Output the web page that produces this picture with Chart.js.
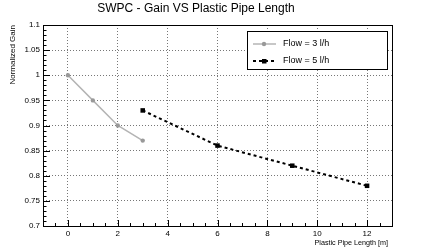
<!DOCTYPE html>
<html>
<head>
<meta charset="utf-8">
<script src="https://cdn.jsdelivr.net/npm/chart.js@4"></script>
<style>
  body { margin: 0; background: #fff; }
  canvas { display: block; }
</style>
</head>
<body>
<canvas id="gainChart" width="436" height="252"></canvas>
<script>
// data
const flow3Length = [0, 1, 2, 3];
const flow3Gain = [1.0, 0.95, 0.9, 0.87];
const flow5Length = [3, 6, 9, 12];
const flow5Gain = [0.93, 0.86, 0.82, 0.78];

const seriesLabels = ["Flow = 3 l/h", "Flow = 5 l/h"];
const xTickValues = [0, 2, 4, 6, 8, 10, 12];
const yTickValues = [0.7, 0.75, 0.8, 0.85, 0.9, 0.95, 1, 1.05, 1.1];

const FONT = "'Liberation Sans', Arial, sans-serif";

function toPoints(xs, ys) {
  return xs.map((x, i) => ({ x: x, y: ys[i] }));
}

// ROOT-like frame, inside ticks and legend box
const rootFrame = {
  id: "rootFrame",
  afterDraw(chart) {
    const { ctx, chartArea: a, scales } = chart;
    const xs = scales.x;
    const ys = scales.y;

    ctx.save();
    ctx.strokeStyle = "#000";
    ctx.lineWidth = 1;
    ctx.setLineDash([]);
    ctx.strokeRect(Math.round(a.left) + 0.5, Math.round(a.top) + 0.5,
      Math.round(a.right - a.left), Math.round(a.bottom - a.top));

    ctx.beginPath();
    // y ticks
    for (let k = 70; k <= 110; k++) {
      const py = Math.round(ys.getPixelForValue(k / 100)) + 0.5;
      const len = k % 5 === 0 ? 7 : 3.5;
      ctx.moveTo(a.left, py);
      ctx.lineTo(a.left + len, py);
    }
    // x ticks
    for (let k = -2; k <= 26; k++) {
      const px = Math.round(xs.getPixelForValue(k / 2)) + 0.5;
      const len = k % 4 === 0 ? 6 : 3;
      ctx.moveTo(px, a.bottom);
      ctx.lineTo(px, a.bottom - len);
    }
    ctx.stroke();

    // legend
    const bx = 247, by = 31, bw = 140, bh = 38;
    ctx.fillStyle = "#fff";
    ctx.fillRect(bx, by, bw, bh);
    ctx.strokeRect(bx + 0.5, by + 0.5, bw, bh);

    const rows = [44, 61];
    chart.data.datasets.forEach((ds, i) => {
      const y = rows[i];
      ctx.save();
      ctx.strokeStyle = ds.borderColor;
      ctx.lineWidth = ds.borderWidth;
      ctx.setLineDash(ds.borderDash || []);
      ctx.beginPath();
      ctx.moveTo(253, y);
      ctx.lineTo(276, y);
      ctx.stroke();
      ctx.restore();
      ctx.fillStyle = ds.pointBackgroundColor;
      if (ds.pointStyle === "rect") {
        ctx.fillRect(262, y - 2, 4.5, 4.5);
      } else {
        ctx.beginPath();
        ctx.arc(264, y, ds.pointRadius, 0, Math.PI * 2);
        ctx.fill();
      }
      ctx.fillStyle = "#000";
      ctx.font = "9px " + FONT;
      ctx.textBaseline = "middle";
      ctx.fillText(ds.label, 283, y);
    });
    ctx.restore();
  },
};

new Chart(document.getElementById("gainChart"), {
  type: "line",
  data: {
    datasets: [
      {
        label: seriesLabels[0],
        data: toPoints(flow3Length, flow3Gain),
        borderColor: "#b4b4b4",
        borderWidth: 1.5,
        pointStyle: "circle",
        pointRadius: 2.2,
        pointBackgroundColor: "#999",
        pointBorderWidth: 0,
      },
      {
        label: seriesLabels[1],
        data: toPoints(flow5Length, flow5Gain),
        borderColor: "#000",
        borderWidth: 2,
        borderDash: [3, 3],
        pointStyle: "rect",
        pointRadius: 3.2,
        pointBackgroundColor: "#000",
        pointBorderWidth: 0,
      },
    ],
  },
  options: {
    responsive: false,
    animation: false,
    devicePixelRatio: 1,
    layout: { padding: { left: 0, right: 44, top: 0, bottom: 0 } },
    plugins: {
      legend: { display: false },
      tooltip: { enabled: false },
      title: {
        display: true,
        text: "SWPC - Gain VS Plastic Pipe Length",
        color: "#000",
        font: { family: FONT, size: 12, weight: "normal" },
        padding: { top: 1, bottom: 9.6 },
      },
    },
    scales: {
      x: {
        type: "linear",
        min: -1,
        max: 13,
        afterBuildTicks: (s) => { s.ticks = xTickValues.map((v) => ({ value: v })); },
        afterFit: (s) => { s.height = 26; },
        ticks: {
          color: "#000",
          padding: 3,
          maxRotation: 0,
          font: { family: FONT, size: 8 },
          callback: (v) => String(v),
        },
        grid: {
          drawTicks: false,
          color: "#777",
          lineWidth: 1,
        },
        border: { display: false, dash: [1, 2] },
        title: {
          display: true,
          text: "Plastic Pipe Length [m]  ",
          align: "end",
          color: "#000",
          font: { family: FONT, size: 7.2 },
          padding: { top: 0, bottom: 4.2 },
        },
      },
      y: {
        min: 0.7,
        max: 1.1,
        afterBuildTicks: (s) => { s.ticks = yTickValues.map((v) => ({ value: v })); },
        afterFit: (s) => { s.width = 43; },
        ticks: {
          color: "#000",
          padding: 3,
          font: { family: FONT, size: 8 },
          callback: (v) => String(Math.round(v * 100) / 100),
        },
        grid: {
          drawTicks: false,
          lineWidth: 1,
          color: (c) => (c.tick && (c.tick.value <= 0.7 || c.tick.value >= 1.1)) ? "rgba(0,0,0,0)" : "#777",
        },
        border: { display: false, dash: [1, 2] },
        title: {
          display: true,
          text: "Normalized Gain",
          align: "end",
          color: "#000",
          font: { family: FONT, size: 8 },
          padding: { top: 7.7, bottom: 0 },
        },
      },
    },
  },
  plugins: [rootFrame],
});
</script>
</body>
</html>
